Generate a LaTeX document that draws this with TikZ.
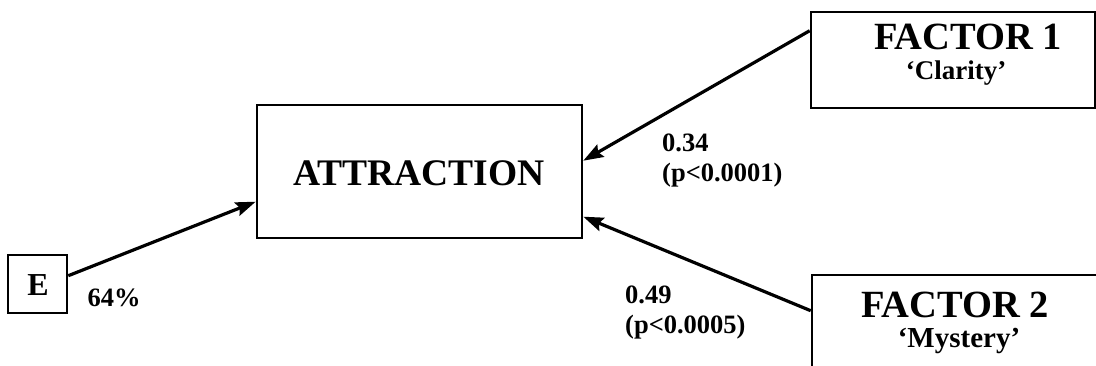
\documentclass[tikz,border=0pt]{standalone}
\usepackage{fontspec}
\setmainfont{Liberation Serif}
\usetikzlibrary{arrows.meta,calc}
\tikzset{
  box/.style={draw=black, line width=2.6pt, rectangle, inner sep=0pt},
  conn/.style={line width=3.2pt, -{Stealth[length=20pt,width=14pt,inset=3pt]}},
  lbl/.style={inner sep=0pt, font=\bfseries},
}
\newcommand{\fs}[1]{\fontsize{#1}{#1}\selectfont}
\begin{document}
\begin{tikzpicture}[x=1pt,y=-1pt]
\useasboundingbox (0,0) rectangle (1096,366);
\clip (0,0) rectangle (1096,366);
% boxes
\node[box, minimum width=325pt, minimum height=133pt] (a) at (419.5,171.5) {};
\node[box, minimum width=284pt, minimum height=96pt] (f1) at (953,60) {};
\node[box, minimum width=300pt, minimum height=110pt] (f2) at (962,330) {};
\node[box, minimum width=59pt, minimum height=58pt] (e) at (37.5,284) {};
% texts
\node[lbl, font=\bfseries\fs{37.5}] (ta) at (419,173) {ATTRACTION};
\node[lbl, font=\bfseries\fs{38.5}] (tf1) at (968,37) {FACTOR 1};
\node[lbl, font=\bfseries\fs{27}] (tc) at (956,73) {`Clarity'};
\node[lbl, font=\bfseries\fs{38.5}] (tf2) at (955,305) {FACTOR 2};
\node[lbl, font=\bfseries\fs{29}] (tm) at (959,341) {`Mystery'};
\node[lbl, font=\bfseries\fs{32}] (te) at (38,285) {E};
\node[lbl, font=\bfseries\fs{26.5}] (p64) at (114,298) {64\%};
\node[lbl, font=\bfseries\fs{26.5}, anchor=west] (n1) at (662,143) {0.34};
\node[lbl, font=\bfseries\fs{26.5}, anchor=west] (p1) at (662,175) {(p<0.0001)};
\node[lbl, font=\bfseries\fs{26.5}, anchor=west] (n2) at (625,295) {0.49};
\node[lbl, font=\bfseries\fs{26.5}, anchor=west] (p2) at (625,327) {(p<0.0005)};
% connectors
\draw[conn] ([yshift=-20pt]f1.north west) -- ([yshift=-57pt]a.north east);
\draw[conn] ([yshift=-37pt]f2.north west) -- ([yshift=-113pt]a.north east);
\draw[conn] ([yshift=-22pt]e.north east) -- ([yshift=-98pt]a.north west);
\end{tikzpicture}
\end{document}
